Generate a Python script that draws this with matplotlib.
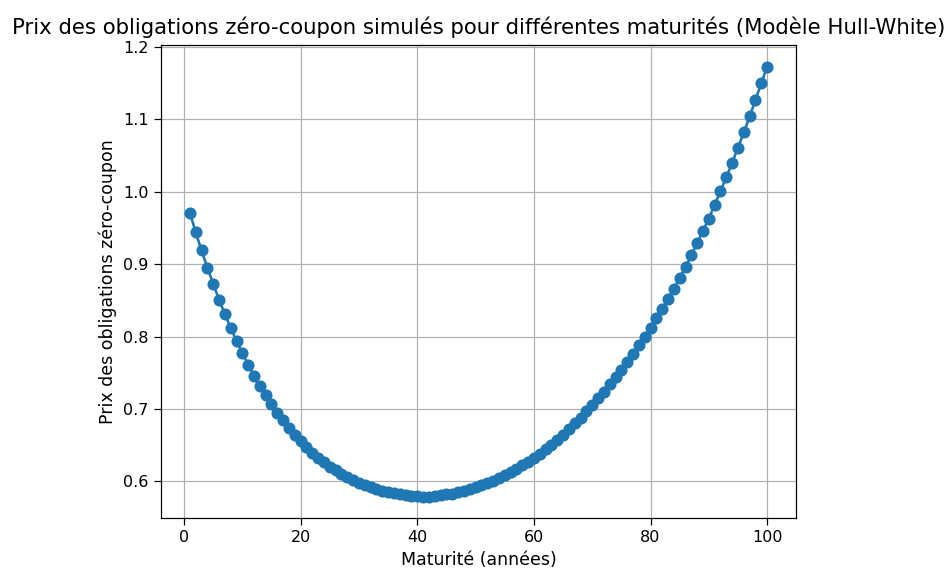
import numpy as np
import matplotlib
matplotlib.use("Agg")
import matplotlib.pyplot as plt

# maturités en années
maturites = np.arange(1, 101)

# prix simulés des zéro-coupons (Hull-White)
prix = [
    0.971, 0.944, 0.919, 0.895, 0.873, 0.851, 0.831, 0.812, 0.794, 0.777,
    0.761, 0.746, 0.732, 0.719, 0.707, 0.695, 0.684, 0.674, 0.664, 0.655,
    0.647, 0.639, 0.632, 0.626, 0.620, 0.615, 0.610, 0.606, 0.602, 0.598,
    0.595, 0.592, 0.590, 0.587, 0.585, 0.584, 0.582, 0.581, 0.580, 0.580,
    0.579, 0.579, 0.580, 0.581, 0.582, 0.583, 0.585, 0.587, 0.589, 0.592,
    0.595, 0.598, 0.601, 0.605, 0.609, 0.613, 0.617, 0.622, 0.627, 0.632,
    0.638, 0.644, 0.650, 0.657, 0.664, 0.672, 0.680, 0.688, 0.697, 0.706,
    0.715, 0.724, 0.734, 0.744, 0.754, 0.765, 0.776, 0.788, 0.800, 0.812,
    0.825, 0.838, 0.852, 0.866, 0.881, 0.896, 0.912, 0.929, 0.946, 0.963,
    0.982, 1.001, 1.020, 1.040, 1.061, 1.082, 1.104, 1.127, 1.150, 1.173,
]

dpi = 110
fig = plt.figure(figsize=(951 / dpi, 571 / dpi), dpi=dpi)
ax = fig.add_axes([161 / 951, 53 / 571, 635 / 951, 473 / 571])

ax.plot(maturites, prix, marker='o', markersize=6.9, linewidth=1.7)
ax.set_title("Prix des obligations zéro-coupon simulés pour différentes maturités (Modèle Hull-White)",
             fontsize=13.9, pad=7)
ax.set_xlabel("Maturité (années)", fontsize=11.4)
ax.set_ylabel("Prix des obligations zéro-coupon", fontsize=11.4)
ax.tick_params(labelsize=10.5, length=4.5)
ax.grid(True)

fig.savefig("out.png", dpi=dpi)
